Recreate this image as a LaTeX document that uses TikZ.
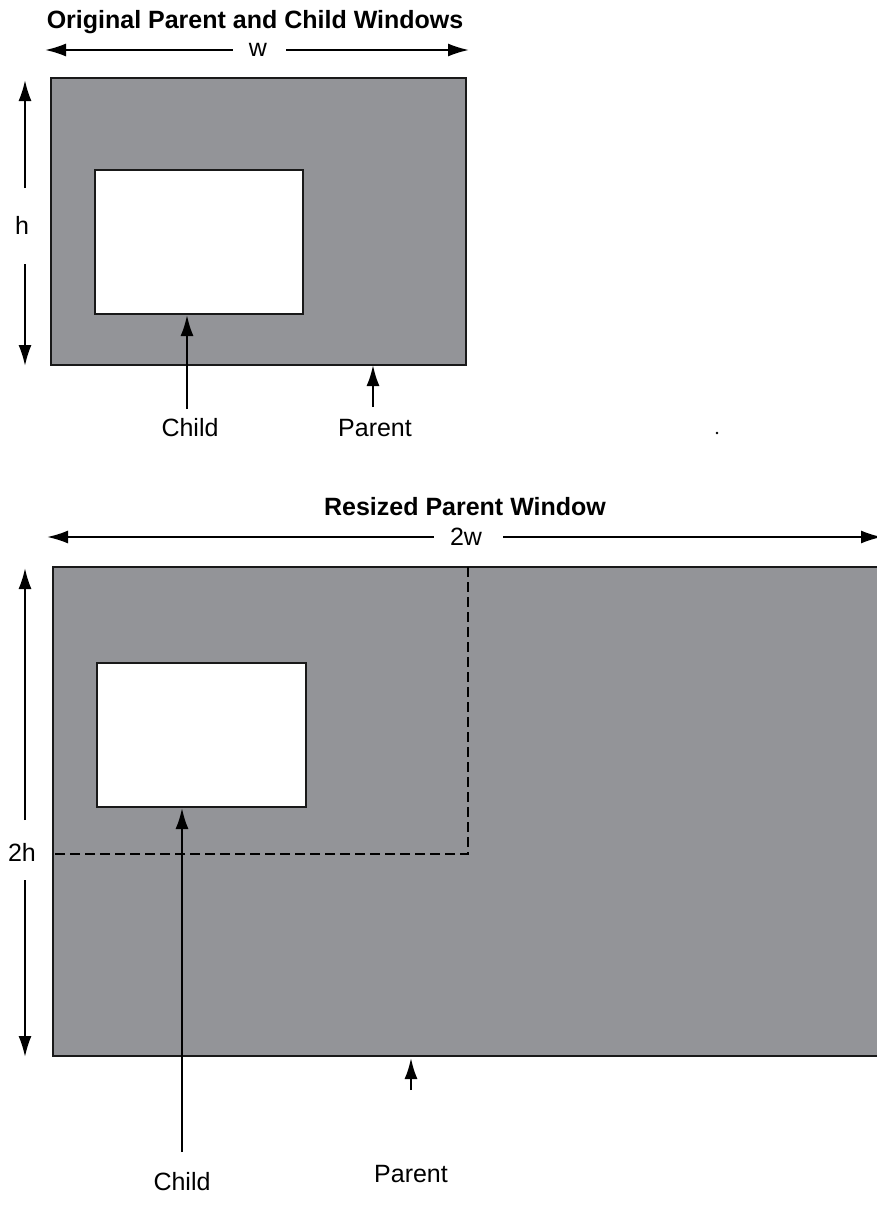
\documentclass[tikz,border=0pt]{standalone}
\usepackage{fontspec}
\setmainfont{Liberation Sans}
\usetikzlibrary{arrows.meta}
\definecolor{wingray}{RGB}{147,148,152}
\tikzset{
  win/.style={draw=black!90, line width=2.2pt},
  parentwin/.style={win, fill=wingray},
  childwin/.style={win, fill=white},
  dim/.style={line width=2pt, -{Latex[length=21pt,width=13pt]}},
  pointer/.style={line width=2.2pt, -{Latex[length=21pt,width=13pt]}},
  lbl/.style={inner sep=0pt, font=\fontsize{25}{30}\selectfont},
  ttl/.style={inner sep=0pt, font=\fontsize{25}{30}\selectfont\bfseries},
  guide/.style={line width=2pt, dash pattern=on 10pt off 5pt}
}
\begin{document}
\begin{tikzpicture}[x=1pt, y=-1pt]
\useasboundingbox (0,0) rectangle (877,1215);

% ---- original window pair ----
\node[ttl] (t1) at (255,22) {Original Parent and Child Windows};
\node[lbl] (w) at (258,50) {w};
\coordinate (wl) at (45,50);
\coordinate (wr) at (469,50);
\draw[dim] (w.west) ++(-16,0) -- (wl);
\draw[dim] (w.east) ++(19,0) -- (wr);

\node[parentwin, minimum width=415pt, minimum height=287pt, inner sep=0pt, anchor=north west] (p1) at (50,77) {};
\node[childwin, minimum width=208pt, minimum height=144pt, inner sep=0pt, anchor=north west] (c1) at (94,169) {};

\node[lbl] (h) at (22,225) {h};
\coordinate (ht) at (25,80);
\coordinate (hb) at (25,366);
\draw[dim] (25,188) -- (ht);
\draw[dim] (25,264) -- (hb);

\node[lbl] (cl1) at (190,428) {Child};
\node[lbl] (pl1) at (375,428) {Parent};
\coordinate (c1tip) at (187,315);
\coordinate (p1tip) at (373,365);
\draw[pointer] (187,409) -- (c1tip);
\draw[pointer] (373,407) -- (p1tip);
\fill (717,433) circle (1.3pt);

% ---- resized parent ----
\node[ttl] (t2) at (465,507) {Resized Parent Window};
\node[lbl] (w2) at (466,537) {2w};
\coordinate (w2l) at (47,537);
\coordinate (w2r) at (882,537);
\draw[dim] (w2.west) ++(-16,0) -- (w2l);
\draw[dim] (w2.east) ++(21,0) -- (w2r);

\node[parentwin, minimum width=840pt, minimum height=489pt, inner sep=0pt, anchor=north west] (p2) at (52,566) {};
\node[childwin, minimum width=209pt, minimum height=144pt, inner sep=0pt, anchor=north west] (c2) at (96,662) {};

% original extent of the parent inside the resized one
\coordinate (oc) at (468,854);
\draw[guide] (468,567) -- (oc) -- (53,854);

\node[lbl] (h2) at (22,852) {2h};
\coordinate (h2t) at (25,568);
\coordinate (h2b) at (25,1057);
\draw[dim] (25,820) -- (h2t);
\draw[dim] (25,880) -- (h2b);

\node[lbl] (cl2) at (182,1182) {Child};
\node[lbl] (pl2) at (411,1174) {Parent};
\coordinate (c2tip) at (182,808);
\coordinate (p2tip) at (411,1058);
\draw[pointer] (182,1152) -- (c2tip);
\draw[pointer] (411,1090) -- (p2tip);
\end{tikzpicture}
\end{document}
